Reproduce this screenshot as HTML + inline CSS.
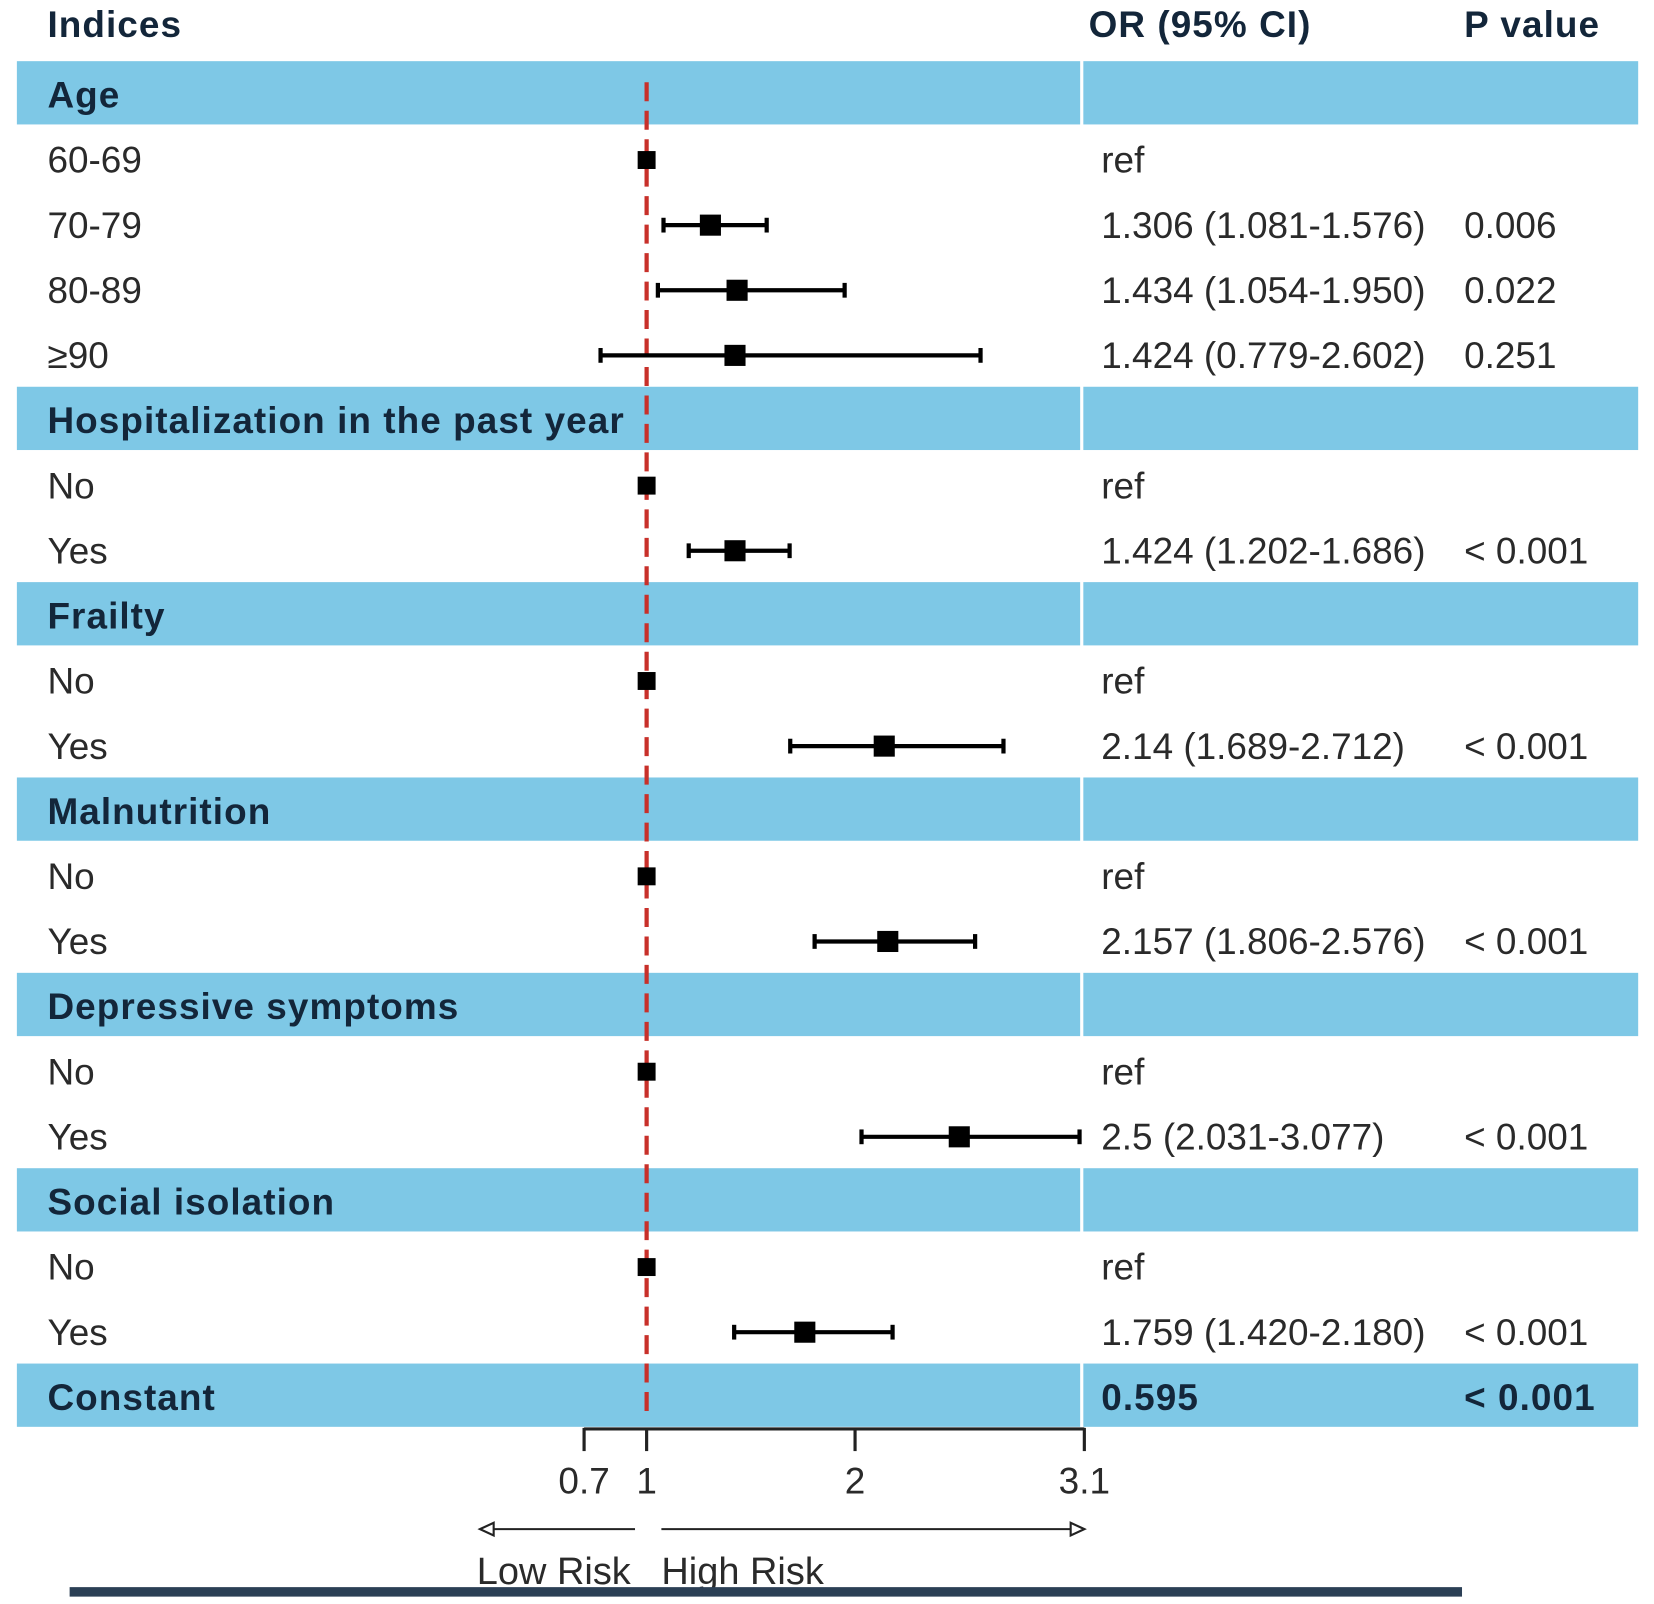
<!DOCTYPE html>
<html><head><meta charset="utf-8"><style>
html,body{margin:0;padding:0;background:#fff}
svg{display:block}
text{font-family:"Liberation Sans",Arial,sans-serif;fill:#2a2a2a}
.b{font-weight:bold;fill:#13263a;letter-spacing:1px}
</style></head><body>
<svg id="chart" width="1654" height="1604" viewBox="0 0 1568 1521" preserveAspectRatio="none" xmlns="http://www.w3.org/2000/svg">
<g id="bands"></g>
<g id="refline"></g>
<g id="marks"></g>
<g id="labels"></g>
<g id="axis"></g>
</svg>
<script>
const rowLabels=["Age","60-69","70-79","80-89","≥90","Hospitalization in the past year","No","Yes","Frailty","No","Yes","Malnutrition","No","Yes","Depressive symptoms","No","Yes","Social isolation","No","Yes","Constant"];
const isHeader=[1,0,0,0,0,1,0,0,1,0,0,1,0,0,1,0,0,1,0,0,1];
const orValues=[null,1,1.306,1.434,1.424,null,1,1.424,null,1,2.14,null,1,2.157,null,1,2.5,null,1,1.759,null];
const ciLow=[null,null,1.081,1.054,0.779,null,null,1.202,null,null,1.689,null,null,1.806,null,null,2.031,null,null,1.420,null];
const ciHigh=[null,null,1.576,1.950,2.602,null,null,1.686,null,null,2.712,null,null,2.576,null,null,3.077,null,null,2.180,null];
const orText=["","ref","1.306 (1.081-1.576)","1.434 (1.054-1.950)","1.424 (0.779-2.602)","","ref","1.424 (1.202-1.686)","","ref","2.14 (1.689-2.712)","","ref","2.157 (1.806-2.576)","","ref","2.5 (2.031-3.077)","","ref","1.759 (1.420-2.180)","0.595"];
const pText=["","","0.006","0.022","0.251","","","< 0.001","","","< 0.001","","","< 0.001","","","< 0.001","","","< 0.001","< 0.001"];
const tickValues=[0.7,1,2,3.1];
const tickLabels=["0.7","1","2","3.1"];

const NS="http://www.w3.org/2000/svg";
function mk(tag,attrs,parent,txt){const e=document.createElementNS(NS,tag);for(const k in attrs)e.setAttribute(k,attrs[k]);if(txt!==undefined)e.textContent=txt;parent.appendChild(e);return e;}
const xS=v=>613+(v-1)*197.6;
const yS=i=>90+i*61.75;
const bands=document.getElementById('bands'),marks=document.getElementById('marks'),labels=document.getElementById('labels'),axis=document.getElementById('axis'),refl=document.getElementById('refline');
const FS=35;

let h=mk('text',{x:45,y:35,'font-size':FS,class:'b'},labels,'Indices');


h=mk('text',{x:1032,y:35,'font-size':FS,class:'b'},labels,'OR (95% CI)');


h=mk('text',{x:1388,y:35,'font-size':FS,class:'b'},labels,'P value');



rowLabels.forEach((lab,i)=>{
  const y=yS(i);
  if(isHeader[i]){
    let r=mk('rect',{x:16,y:y-32,width:1008,height:60,fill:'#7ec8e6'},bands);
    
    
    r=mk('rect',{x:1027,y:y-32,width:526,height:60,fill:'#7ec8e6'},bands);
    
    
  }
  const bold=isHeader[i];
  let t=mk('text',{x:45,y:y+12,'font-size':FS,class:bold?'b':''},labels,lab);
  
  
  if(orText[i]){
    t=mk('text',{x:1044,y:y+12,'font-size':FS,class:i===20?'b':''},labels,orText[i]);
    
    
  }
  if(pText[i]){
    t=mk('text',{x:1388,y:y+12,'font-size':FS,class:i===20?'b':''},labels,pText[i]);
    
    
  }
  if(orValues[i]!==null){
    if(ciLow[i]!==null){
      const x1=xS(ciLow[i]),x2=xS(ciHigh[i]);
      let l=mk('line',{x1:x1,x2:x2,y1:y,y2:y,stroke:'#000','stroke-width':4},marks);
      
      
      [x1,x2].forEach(x=>{let c=mk('line',{x1:x,x2:x,y1:y-7,y2:y+7,stroke:'#000','stroke-width':4},marks);
        
        });
    }
    const s=ciLow[i]===null?17:20;
    let p=mk('rect',{x:xS(orValues[i])-s/2,y:y-s/2,width:s,height:s,fill:'#000'},marks);
    
    
  }
});
let rl=mk('line',{x1:613,x2:613,y1:78,y2:1345,stroke:'#c8302a','stroke-width':4,'stroke-dasharray':'18 9'},refl);



let al=mk('line',{x1:xS(0.7),x2:xS(3.1),y1:1355,y2:1355,stroke:'#222','stroke-width':3},axis);


tickValues.forEach((v,k)=>{
  let t=mk('line',{x1:xS(v),x2:xS(v),y1:1354,y2:1376,stroke:'#222','stroke-width':3},axis);
  
  
  let tl=mk('text',{x:xS(v),y:1416,'font-size':35,'text-anchor':'middle'},axis,tickLabels[k]);
  
  
});
let a=mk('line',{x1:602,x2:462,y1:1450,y2:1450,stroke:'#222','stroke-width':2},axis);


mk('polygon',{points:'455,1450 468,1444 468,1456',fill:'#fff',stroke:'#222','stroke-width':2},axis);
a=mk('line',{x1:627,x2:1016,y1:1450,y2:1450,stroke:'#222','stroke-width':2},axis);


mk('polygon',{points:'1028,1450 1015,1444 1015,1456',fill:'#fff',stroke:'#222','stroke-width':2},axis);
let lt=mk('text',{x:598,y:1502,'font-size':36,'text-anchor':'end'},axis,'Low Risk');


lt=mk('text',{x:627,y:1502,'font-size':36},axis,'High Risk');


let bb=mk('rect',{x:66,y:1505,width:1320,height:9,fill:'#2b3f55'},axis);


</script>
</body></html>
